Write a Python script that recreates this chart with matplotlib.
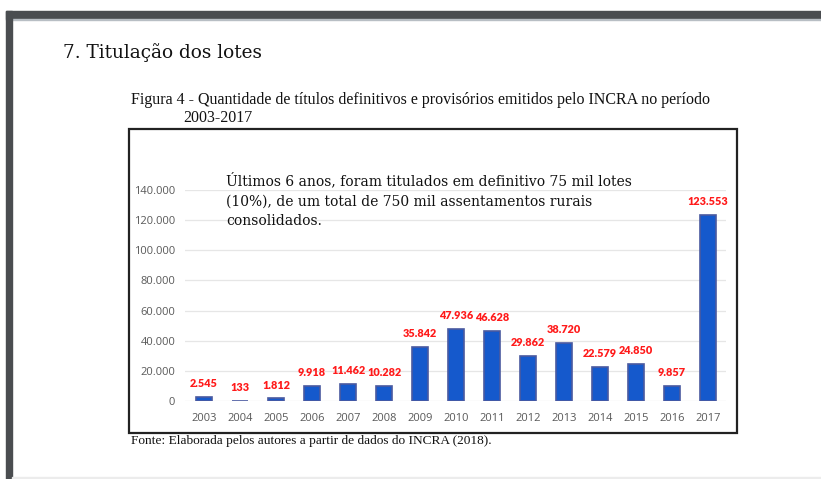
import matplotlib.pyplot as plt
from matplotlib.patches import Rectangle

# data
years = [str(y) for y in range(2003, 2018)]
titulos = [2545, 133, 1812, 9918, 11462, 10282, 35842, 47936, 46628,
           29862, 38720, 22579, 24850, 9857, 123553]
ytick_vals = [0, 20000, 40000, 60000, 80000, 100000, 120000, 140000]

heading = "7. Titulação dos lotes"
caption1 = "Figura 4 - Quantidade de títulos definitivos e provisórios emitidos pelo INCRA no período"
caption2 = "2003-2017"
note = ("Últimos 6 anos, foram titulados em definitivo 75 mil lotes\n"
        "(10%), de um total de 750 mil assentamentos rurais\n"
        "consolidados.")
source = "Fonte: Elaborada pelos autores a partir de dados do INCRA (2018)."


def fmt(v):
    return f"{v:,}".replace(",", ".")


W, H = 821, 479
fig = plt.figure(figsize=(W / 100, H / 100), dpi=100)


def px(x, y):
    # pixel coords (from top-left) -> figure fraction
    return x / W, 1 - y / H


# page frame (screenshot borders)
fig.patches.append(Rectangle(px(6, 19), 1, 8 / H, transform=fig.transFigure,
                             color="#4a4d50", zorder=0))
fig.patches.append(Rectangle(px(6, 20), 1, 1 / H, transform=fig.transFigure,
                             color="#b8bec4", zorder=0))
fig.patches.append(Rectangle(px(6, 479), 6 / W, 468 / H, transform=fig.transFigure,
                             color="#4a4d50", zorder=0))
fig.patches.append(Rectangle(px(12, 479), 1, 2 / H, transform=fig.transFigure,
                             color="#ececec", zorder=0))

# chart frame
x0, y0 = px(129, 433)
x1, y1 = px(737, 129)
fig.patches.append(Rectangle((x0, y0), x1 - x0, y1 - y0, transform=fig.transFigure,
                             fill=False, edgecolor="#222222", lw=1.6, zorder=1))

# texts
fig.text(*px(63, 53), heading, family="DejaVu Serif", fontsize=13.3,
         va="center", ha="left", color="#111111")
fig.text(*px(131, 100), caption1, family="Liberation Serif", fontsize=11.5,
         va="center", ha="left", color="#111111")
fig.text(*px(183, 118), caption2, family="Liberation Serif", fontsize=11.5,
         va="center", ha="left", color="#111111")
fig.text(*px(131, 441), source, family="Liberation Serif", fontsize=9.6,
         va="center", ha="left", color="#111111")

# axes
ax_l, ax_b = px(185, 401)
ax_r, ax_t = px(726, 190)
ax = fig.add_axes([ax_l, ax_b, ax_r - ax_l, ax_t - ax_b])
ax.set_facecolor("none")
xs = list(range(len(years)))
ax.bar(xs, titulos, width=0.45, color="#1559cc", edgecolor="#4a5aa0",
       linewidth=1.2, zorder=3)
ax.set_xlim(-0.53, 14.5)
ax.set_ylim(0, 140000)
ax.set_yticks(ytick_vals)
ax.set_yticklabels([fmt(v) for v in ytick_vals])
ax.set_xticks(xs)
ax.set_xticklabels(years)
ax.grid(axis="y", color="#e6e6e6", lw=0.9, zorder=0)
for s in ax.spines.values():
    s.set_visible(False)
ax.tick_params(length=0, labelsize=8.0, labelcolor="#595959", pad=7)
ax.tick_params(axis="x", pad=8.5)
for lab in ax.get_xticklabels() + ax.get_yticklabels():
    lab.set_family("Open Sans")

for x, v in zip(xs, titulos):
    ax.annotate(fmt(v), (x, v), xytext=(0, 9.5), textcoords="offset points",
                ha="center", va="center", color="#ff1a1a", fontweight="heavy",
                fontsize=7.8, family="Lato", zorder=4)

# note on the chart
fig.text(*px(226, 173), note, family="DejaVu Serif", fontsize=10.0,
         va="top", ha="left", color="#111111", linespacing=1.5)

fig.savefig("out.png", dpi=100)
